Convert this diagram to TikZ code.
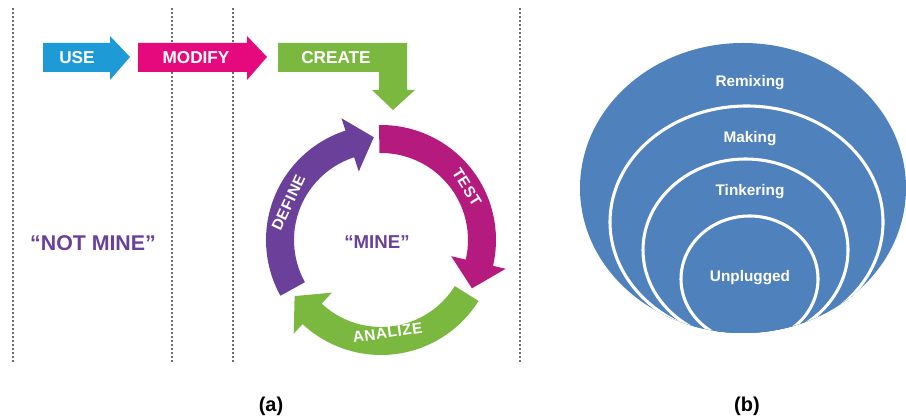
\documentclass[tikz,border=0pt]{standalone}
\usepackage{fontspec}
\setmainfont{Liberation Sans}
\definecolor{useblue}{HTML}{1E9BD7}
\definecolor{modpink}{HTML}{E6097E}
\definecolor{crgreen}{HTML}{7AB83F}
\definecolor{testmag}{HTML}{B51A7F}
\definecolor{defpurple}{HTML}{6A409A}
\definecolor{ringblue}{HTML}{4F81BD}
\tikzset{
	sep/.style={gray!85!black,line width=1.3pt,dash pattern=on 1.2pt off 1.8pt},
	lab/.style={text=white,font=\bfseries\fontsize{12.9}{14}\selectfont},
	arclab/.style={text=white,inner sep=1pt,font=\bfseries\fontsize{11.5}{13}\selectfont\addfontfeature{LetterSpace=4}},
	ring/.style={fill=ringblue,draw=white,line width=2.3pt},
	ringlab/.style={text=white,font=\bfseries\fontsize{11.5}{13}\selectfont},
	mine/.style={text=defpurple,font=\bfseries\fontsize{14}{16}\selectfont},
	caption/.style={font=\bfseries\fontsize{15}{17}\selectfont},
}
\newcommand{\cycarrow}[4]{% colour, start, end, tip
	\fill[#1] (#2:115) arc (#2:#3:115) -- (#3:128) -- (#4:103) -- (#3:72) -- (#3:87) arc (#3:#2:87) -- cycle;}
\begin{document}
\begin{tikzpicture}[x=0.75pt,y=0.75pt]
	\useasboundingbox (0,0) rectangle (906,420);
	\foreach \x in {13,172,233,520} \draw[sep] (\x,412)--(\x,58);
	% use - modify - create
	\fill[useblue] (43,348)--(110,348)--(110,340)--(130,363)--(110,384)--(110,377)--(43,377)--cycle;
	\fill[modpink] (138,348)--(247,348)--(247,340)--(267,363)--(247,384)--(247,377)--(138,377)--cycle;
	\fill[crgreen] (278,377)--(407,377)--(407,330)--(415,330)--(393,310)--(372,330)--(379,330)--(379,348)--(278,348)--cycle;
	\node[lab] (use) at (77,362) {USE};
	\node[lab] (modify) at (196,362) {MODIFY};
	\node[lab] (create) at (336,362) {CREATE};
	\node[mine,font=\bfseries\fontsize{16}{18}\selectfont] (notmine) at (93,177) {“NOT MINE”};
	% cycle
	\begin{scope}[shift={(381,180)}]
		\cycarrow{testmag}{91}{-13}{-28}
		\cycarrow{crgreen}{-32}{-133}{-147}
		\cycarrow{defpurple}{209}{108}{94}
		\node[arclab,rotate=-58] (test) at (31.6:101) {TEST};
		\node[arclab,rotate=65] (define) at (158:100) {DEFINE};
		\node[arclab,rotate=8] (analize) at (-86:93) {ANALIZE};
		\node[mine] (mine) at (-4,-2) {“MINE”};
	\end{scope}
	% nested rings
	\fill[ringblue] (743,232) ellipse [x radius=163,y radius=145];
	\begin{scope}
		\clip (743,232) ellipse [x radius=163,y radius=145];
		\draw[ring] (746.5,198) ellipse [x radius=136.5,y radius=116];
		\draw[ring] (745.5,170) ellipse [x radius=102.5,y radius=91];
		\draw[ring] (749.5,141) ellipse [x radius=68.5,y radius=63];
	\end{scope}
	\node[ringlab] (remixing) at (750,337) {Remixing};
	\node[ringlab] (making) at (750,281) {Making};
	\node[ringlab] (tinkering) at (750,228) {Tinkering};
	\node[ringlab] (unplugged) at (750,142) {Unplugged};
	\node[caption] (capa) at (271,14) {(a)};
	\node[caption] (capb) at (747,14) {(b)};
\end{tikzpicture}
\end{document}
